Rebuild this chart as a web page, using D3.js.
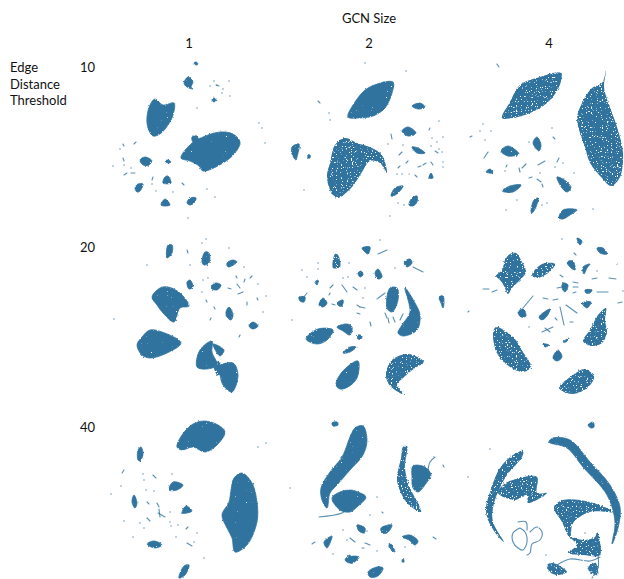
<!DOCTYPE html>
<html lang="en">
<head>
<meta charset="UTF-8">
<title>GCN size vs edge distance threshold</title>
<script src="https://d3js.org/d3.v7.min.js"></script>
<style>
    body{ margin:0; padding:0; background:#fff; }
    #misvg{ display:block; }
    text{ font-family:Lato, "Open Sans", sans-serif; font-size:13px; fill:#111; }
</style>
</head>
<body>
<svg id="misvg"></svg>
<script>
let svgw = 624, svgh = 579;
let gcnSizes = ["1", "2", "4"];
let thresholds = ["10", "20", "40"];
let rowLabel = ["Edge", "Distance", "Threshold"];

// embedding coordinates (0..180 on both axes)
// t10 = threshold 10, g1 = GCN size 1; blobs solid, loose speckled
let t10g1Blobs = [
  [[55,49],[63,55],[74,53],[73,65],[68,75],[60,84],[53,86],[48,78],[47,67],[50,55]],
  [[81,108],[92,93],[103,87],[120,82],[133,84],[140,92],[135,103],[123,113],[103,121],[99,116],[90,111]],
  [[92,87],[97,86],[98,91],[93,92]],
  [[88,27],[93,32],[91,37],[93,39],[87,37],[84,33]],
  [[94,13],[96,12],[98,14],[96,15]],
  [[112,50],[114,48],[116,50],[114,52]],
  [[40,110],[45,107],[52,111],[47,116],[42,114]],
  [[65,127],[68,126],[71,133],[63,133]],
  [[35,138],[38,134],[43,134],[40,141],[37,142]],
  [[61,155],[65,149],[70,155],[65,156]],
  [[87,153],[90,148],[96,148],[94,153],[90,155]],
  [[65,111],[68,110],[71,112],[68,113]]
];
let t10g1Streaks = [[[23,94],[24,96]],[[34,94],[36,92]],[[23,108],[24,111]],[[24,125],[27,123]],[[31,123],[35,123]],[[52,130],[53,127]],[[82,133],[84,135]],[[116,35],[119,36]]];
let t10g1Dots = [[114,31],[129,31],[110,36],[117,35],[123,39],[122,43],[130,46],[97,58],[159,73],[162,78],[165,93],[20,99],[24,115],[13,116],[31,118],[52,134],[56,141],[73,142],[107,139],[115,147],[88,168]];

let t10g2Blobs = [
  [[68,67],[75,52],[88,38],[113,32],[112,43],[105,58],[93,66],[78,68]],
  [[12,97],[19,94],[17,107],[16,110],[12,104]],
  [[28,105],[30,105],[30,108],[28,108]],
  [[132,56],[140,53],[145,57],[138,59]],
  [[122,81],[128,77],[136,83],[128,86]],
  [[132,97],[138,98],[145,103],[137,103]],
  [[111,146],[115,138],[123,136],[118,143],[113,146]],
  [[129,155],[132,148],[137,146],[137,152],[133,156]],
  [[149,128],[151,123],[153,128]]
];
let t10g2Loose = [
  [[50,113],[55,95],[65,88],[77,93],[92,98],[102,105],[107,123],[100,113],[90,111],[82,122],[72,137],[57,148],[50,140],[47,125]]
];
let t10g2Streaks = [[[38,51],[40,53]],[[111,84],[112,89]],[[149,80],[150,78]],[[119,105],[122,102]],[[126,113],[128,111]],[[118,118],[120,116]],[[138,117],[141,116]],[[143,115],[146,113]],[[151,112],[153,115]],[[135,125],[137,127]],[[155,101],[158,103]]];
let t10g2Dots = [[85,13],[126,21],[49,63],[50,70],[24,140],[159,71],[108,94],[123,95],[152,88],[163,87],[157,92],[151,96],[159,99],[162,102],[163,112],[163,117],[117,124],[122,124],[129,124],[118,153],[124,155],[110,166]];

let t10g4Blobs = [
  [[77,87],[81,95],[79,101],[73,93]],
  [[41,101],[48,96],[59,104],[48,106]],
  [[26,122],[30,119],[33,123]],
  [[42,141],[50,136],[61,135],[53,142]],
  [[97,127],[107,132],[111,138],[107,142],[102,138]],
  [[71,162],[74,150],[78,148],[76,157],[72,163]],
  [[99,168],[103,160],[117,160],[110,165],[103,169]]
];
let t10g4Loose = [
  [[42,68],[50,52],[60,35],[80,27],[101,23],[99,37],[87,53],[70,63],[53,68]],
  [[146,21],[142,33],[132,38],[122,53],[117,68],[120,83],[125,97],[130,113],[142,128],[151,136],[160,127],[163,103],[157,77],[148,52],[144,37]]
];
let t10g4Streaks = [[[37,14],[39,17]],[[10,87],[12,86]],[[24,108],[28,102]],[[99,108],[97,112]],[[93,87],[95,89]],[[72,127],[69,128]],[[77,129],[81,132]],[[82,134],[83,137]],[[78,115],[85,111]],[[62,118],[66,114]],[[47,115],[46,117]],[[59,118],[60,122]]];
let t10g4Dots = [[23,74],[20,81],[31,81],[25,90],[92,78],[69,92],[80,123],[95,117],[103,113],[114,123],[57,150],[87,153],[82,155],[46,160],[133,159],[45,121]];

let t20g1Blobs = [
  [[52,67],[60,58],[68,57],[80,63],[89,76],[80,78],[74,92],[63,83],[57,75]],
  [[37,115],[42,107],[50,100],[62,102],[81,113],[67,123],[50,128],[42,125]],
  [[112,111],[100,120],[97,137],[107,139],[117,135],[112,122]],
  [[113,114],[124,120],[120,126]],
  [[118,137],[133,133],[138,145],[132,162],[123,155],[120,145]],
  [[67,28],[68,15],[72,15],[72,23]],
  [[102,32],[105,22],[109,23],[109,33],[104,35]],
  [[127,33],[133,30],[137,32],[128,37]],
  [[87,52],[90,50],[93,57],[89,59]],
  [[111,58],[115,53],[121,55],[117,60]],
  [[126,82],[129,77],[133,85],[131,90],[127,87]],
  [[149,96],[153,92],[158,96],[153,99]]
];
let t20g1Loose = [
  [[113,132],[119,132],[122,140],[118,146]]
];
let t20g1Streaks = [[[87,20],[88,23]],[[136,46],[137,48]],[[150,48],[152,46]],[[145,49],[144,52]],[[137,54],[140,58]],[[128,58],[131,59]],[[138,64],[143,62]],[[157,68],[158,70]],[[147,72],[147,75]],[[106,70],[107,72]],[[114,77],[115,79]],[[110,90],[111,88]],[[139,107],[140,105]]];
let t20g1Dots = [[47,35],[14,89],[106,9],[102,13],[129,18],[90,35],[144,37],[108,48],[103,50],[158,54],[102,62],[166,66],[163,82]];

let t20g2Blobs = [
  [[26,109],[38,99],[53,100],[47,110],[37,114]],
  [[57,97],[67,94],[72,97],[70,105],[63,101]],
  [[63,123],[70,117],[76,117],[70,122]],
  [[56,155],[62,142],[78,131],[77,148],[68,157],[60,159]],
  [[19,67],[25,67],[24,72],[20,71]],
  [[39,75],[43,68],[47,73],[43,77]],
  [[57,73],[63,70],[62,76],[59,76]],
  [[35,52],[38,50],[37,55]],
  [[107,78],[110,58],[117,58],[118,70],[112,82]],
  [[125,58],[135,73],[140,85],[137,100],[123,106],[118,103],[122,95],[130,82]],
  [[159,67],[163,66],[164,73],[163,78],[161,73]],
  [[124,32],[130,29],[132,33],[127,37]],
  [[95,43],[98,39],[102,47],[98,49]],
  [[82,18],[90,17],[88,24],[85,22]],
  [[78,43],[81,41],[83,45],[80,47]],
  [[78,105],[82,106],[81,109],[78,109]]
];
let t20g2Loose = [
  [[106,143],[112,130],[128,124],[144,132],[135,138],[123,148],[117,155],[125,165],[115,160],[108,153]],
  [[53,38],[55,24],[58,25],[60,37]]
];
let t20g2Streaks = [[[97,69],[105,63]],[[98,24],[107,20]],[[133,37],[143,42]],[[105,83],[107,88]],[[108,88],[109,93]],[[113,87],[115,92]],[[120,90],[123,84]],[[90,92],[91,96]],[[188,82],[189,81]],[[50,58],[53,55]],[[62,55],[67,62]],[[73,57],[77,60]],[[50,63],[49,65]],[[27,63],[23,68]],[[52,74],[55,75]],[[77,83],[80,84]],[[77,75],[80,77]],[[80,77],[85,78]]];
let t20g2Dots = [[22,40],[38,33],[38,39],[27,47],[69,33],[12,90],[63,48],[68,47],[100,10],[115,38],[85,58],[83,68]];

let t20g4Blobs = [
  [[93,128],[98,120],[102,127],[97,131]],
  [[58,82],[63,79],[66,86],[61,87]],
  [[79,87],[90,79],[87,86],[82,90]],
  [[122,73],[131,72],[127,78]],
  [[107,32],[113,31],[115,40],[110,37]],
  [[123,37],[130,34],[127,38],[124,44]],
  [[117,8],[122,11],[120,15]],
  [[137,18],[143,18],[147,24],[140,23]],
  [[125,60],[132,60],[130,63],[126,63]],
  [[103,53],[108,55],[105,62],[102,58]],
  [[83,114],[89,115],[85,117]],
  [[103,112],[109,108],[106,112]]
];
let t20g4Loose = [
  [[36,46],[42,40],[45,30],[50,24],[56,23],[62,32],[66,42],[60,50],[52,58],[48,64],[44,56],[40,50]],
  [[72,45],[82,34],[95,34],[88,43],[77,48]],
  [[33,105],[36,97],[53,107],[63,122],[71,137],[63,142],[50,137],[38,125]],
  [[146,78],[145,90],[147,103],[142,113],[132,116],[123,111],[130,100],[138,85]],
  [[99,158],[113,145],[125,139],[134,147],[127,158],[112,164]]
];
let t20g4Streaks = [[[63,78],[73,66]],[[100,77],[104,95]],[[106,75],[117,83]],[[137,62],[148,62]],[[23,59],[29,59]],[[32,62],[37,60]],[[83,68],[88,69]],[[93,70],[98,69]],[[97,58],[102,57]],[[113,52],[118,53]],[[113,57],[118,57]],[[113,63],[116,62]],[[132,49],[137,48]],[[149,48],[156,49]],[[158,73],[162,72]],[[114,23],[116,25]],[[100,45],[103,47]],[[82,102],[93,97]],[[85,98],[90,102]],[[110,92],[113,92]],[[95,88],[97,90]]];
let t20g4Dots = [[102,9],[137,41],[157,34],[163,61],[69,97]];

let t40g1Blobs = [
  [[77,37],[82,25],[93,14],[105,11],[118,15],[125,22],[117,35],[105,42],[93,37],[82,40]],
  [[142,63],[152,73],[157,92],[157,112],[147,135],[135,142],[132,128],[127,118],[122,105],[129,92],[131,80],[134,68]],
  [[38,50],[38,40],[41,37],[43,44],[40,51]],
  [[69,80],[73,72],[83,75],[77,80]],
  [[32,92],[34,85],[37,93],[35,98]],
  [[82,103],[86,96],[92,101],[87,103]],
  [[47,134],[54,131],[62,135],[55,138]],
  [[79,168],[84,156],[89,155],[85,165]]
];
let t40g1Streaks = [[[22,63],[24,60]],[[53,65],[56,68]],[[57,93],[59,97]],[[47,108],[50,111]],[[87,133],[92,136]],[[86,119],[88,117]],[[59,99],[60,107]],[[58,103],[65,107]],[[47,92],[49,94]]];
let t40g1Dots = [[11,84],[21,76],[43,64],[44,70],[72,64],[46,80],[54,81],[24,111],[40,113],[44,118],[70,102],[70,112],[71,116],[78,115],[97,123],[76,127],[33,127],[94,132],[104,148],[158,37],[166,33]];

let t40g2Blobs = [
  [[52,13],[57,12],[58,15],[53,16]],
  [[41,78],[50,62],[62,47],[75,18],[83,16],[87,30],[83,45],[70,60],[57,75],[50,83],[47,98],[42,90]],
  [[52,88],[60,82],[70,80],[78,82],[86,87],[77,97],[70,102],[60,100]],
  [[44,132],[52,126],[47,138]],
  [[65,150],[70,145],[70,153]],
  [[133,56],[145,57],[151,65],[147,72],[138,82],[133,78],[132,67]],
  [[77,115],[85,118],[84,123],[79,121]],
  [[101,118],[112,115],[107,123],[102,123]],
  [[122,127],[130,125],[138,131],[135,135],[129,130]],
  [[88,162],[97,157],[103,158],[98,166],[90,167]],
  [[70,147],[79,147],[73,153],[70,153]],
  [[110,133],[113,137],[115,142],[109,137]],
  [[123,148],[124,152],[122,152]]
];
let t40g2Loose = [
  [[123,37],[127,36],[125,58],[130,78],[138,93],[141,102],[127,93],[118,75],[117,67],[121,48]]
];
let t40g2Streaks = [[[39,107],[62,103],[70,97]],[[32,134],[35,132]],[[148,60],[150,52],[155,47]],[[102,102],[103,103]],[[70,128],[75,132]],[[85,133],[90,135]],[[82,138],[84,138]],[[153,127],[156,129]],[[163,55],[164,57]]];
let t40g2Dots = [[97,87],[90,105],[188,67],[97,141],[87,121],[125,137],[10,78],[53,144],[63,120],[67,130]];

let t40g4Blobs = [
  [[89,32],[93,28],[110,30],[130,52],[150,75],[160,97],[158,118],[152,134],[155,112],[147,85],[123,57],[107,38]],
  [[128,15],[133,12],[134,17],[131,18]]
];
let t40g4Loose = [
  [[63,41],[62,47],[47,65],[38,82],[33,98],[33,112],[44,132],[37,125],[28,110],[26,98],[30,82],[40,58],[53,45]],
  [[43,75],[53,70],[77,67],[77,83],[87,83],[68,93],[67,85],[55,90],[38,83]],
  [[94,97],[103,90],[130,92],[153,102],[130,102],[113,113],[110,128],[102,112]],
  [[110,127],[123,130],[135,127],[137,122],[140,145],[123,145],[108,143],[117,135]],
  [[87,155],[93,153],[107,162],[97,165],[90,162]],
  [[128,158],[135,152],[138,165],[131,163]]
];
let t40g4Streaks = [[[97,155],[110,149],[130,151],[140,147]],[[138,145],[138,158],[132,168]],[[60,118],[53,123],[53,132],[58,138],[63,140],[67,132],[65,122],[60,118]],[[70,122],[77,117],[82,122],[80,130],[72,134],[70,143],[67,145]],[[58,112],[66,112],[67,120]]];
let t40g4Dots = [[30,39],[86,145],[125,123]];

let paneles = [
  {t:"10", g:"1", blobs:t10g1Blobs, loose:[], streaks:t10g1Streaks, dots:t10g1Dots},
  {t:"10", g:"2", blobs:t10g2Blobs, loose:t10g2Loose, streaks:t10g2Streaks, dots:t10g2Dots},
  {t:"10", g:"4", blobs:t10g4Blobs, loose:t10g4Loose, streaks:t10g4Streaks, dots:t10g4Dots},
  {t:"20", g:"1", blobs:t20g1Blobs, loose:t20g1Loose, streaks:t20g1Streaks, dots:t20g1Dots},
  {t:"20", g:"2", blobs:t20g2Blobs, loose:t20g2Loose, streaks:t20g2Streaks, dots:t20g2Dots},
  {t:"20", g:"4", blobs:t20g4Blobs, loose:t20g4Loose, streaks:t20g4Streaks, dots:t20g4Dots},
  {t:"40", g:"1", blobs:t40g1Blobs, loose:[], streaks:t40g1Streaks, dots:t40g1Dots},
  {t:"40", g:"2", blobs:t40g2Blobs, loose:t40g2Loose, streaks:t40g2Streaks, dots:t40g2Dots},
  {t:"40", g:"4", blobs:t40g4Blobs, loose:t40g4Loose, streaks:t40g4Streaks, dots:t40g4Dots}
];

let azul = "#30739f";
let svg = d3.select("#misvg").attr("width", svgw).attr("height", svgh);
let defs = svg.append("defs");

// grain: rough edges, plus holes when the cut is low
function hacerFiltro(id, corte, seed, rotura) {
    let f = defs.append("filter").attr("id", id)
        .attr("filterUnits", "userSpaceOnUse")
        .attr("x", 0).attr("y", 0).attr("width", svgw).attr("height", svgh)
        .attr("color-interpolation-filters", "sRGB");
    f.append("feTurbulence").attr("type", "fractalNoise").attr("baseFrequency", 0.6)
        .attr("numOctaves", 2).attr("seed", seed).attr("result", "ruido");
    f.append("feDisplacementMap").attr("in", "SourceGraphic").attr("in2", "ruido")
        .attr("scale", rotura).attr("xChannelSelector", "R").attr("yChannelSelector", "G").attr("result", "roto");
    f.append("feTurbulence").attr("type", "fractalNoise").attr("baseFrequency", 0.8)
        .attr("numOctaves", 1).attr("seed", seed + 3).attr("result", "grano");
    f.append("feColorMatrix").attr("in", "grano").attr("type", "matrix")
        .attr("values", `0 0 0 0 0  0 0 0 0 0  0 0 0 0 0  -14 0 0 0 ${corte}`).attr("result", "mascara");
    f.append("feComposite").attr("in", "roto").attr("in2", "mascara").attr("operator", "in").attr("result", "hecho");
    f.append("feGaussianBlur").attr("in", "hecho").attr("stdDeviation", 0.4);
}
hacerFiltro("denso", 11.2, 2, 2.2);
hacerFiltro("suelto", 9.8, 7, 2.5);
hacerFiltro("fino", 14, 5, 1.5);

let escalaCol = d3.scalePoint().domain(gcnSizes).range([100, 460]);
let escalaFila = d3.scalePoint().domain(thresholds).range([50, 410]);
let capaDensa = svg.append("g").attr("filter", "url(#denso)");
let capaSuelta = svg.append("g").attr("filter", "url(#suelto)");
let capaFina = svg.append("g").attr("filter", "url(#fino)");

paneles.forEach(p => {
    let x = d3.scaleLinear().domain([0, 180]).range([escalaCol(p.g), escalaCol(p.g) + 180]);
    let y = d3.scaleLinear().domain([0, 180]).range([escalaFila(p.t), escalaFila(p.t) + 180]);
    let blob = d3.line().x(d => x(d[0])).y(d => y(d[1])).curve(d3.curveCatmullRomClosed.alpha(0.5));
    let trazo = d3.line().x(d => x(d[0])).y(d => y(d[1])).curve(d3.curveCatmullRom.alpha(0.5));

    capaDensa.append("g").selectAll("path").data(p.blobs).enter().append("path")
        .attr("d", blob).attr("fill", azul).attr("stroke", azul).attr("stroke-width", 0.8);
    capaSuelta.append("g").selectAll("path").data(p.loose).enter().append("path")
        .attr("d", blob).attr("fill", azul);
    capaFina.append("g").selectAll("path").data(p.streaks).enter().append("path")
        .attr("d", trazo).attr("fill", "none").attr("stroke", azul)
        .attr("stroke-width", 1.1).attr("stroke-linecap", "round").attr("stroke-opacity", 0.8);
    capaFina.append("g").selectAll("circle").data(p.dots).enter().append("circle")
        .attr("cx", d => x(d[0])).attr("cy", d => y(d[1])).attr("r", 0.8)
        .attr("fill", azul).attr("fill-opacity", 0.7);
});

svg.append("text").attr("x", 369).attr("y", 23).attr("text-anchor", "middle").text("GCN Size");
svg.append("g").selectAll("text").data(gcnSizes).enter().append("text")
    .attr("x", d => escalaCol(d) + 89).attr("y", 48).attr("text-anchor", "middle").text(d => d);
svg.append("g").selectAll("text").data(thresholds).enter().append("text")
    .attr("x", 80).attr("y", d => escalaFila(d) + 22).text(d => d);
svg.append("g").selectAll("text").data(rowLabel).enter().append("text")
    .attr("x", 10).attr("y", (d, i) => 72 + i * 16.7).text(d => d);
</script>
</body>
</html>
